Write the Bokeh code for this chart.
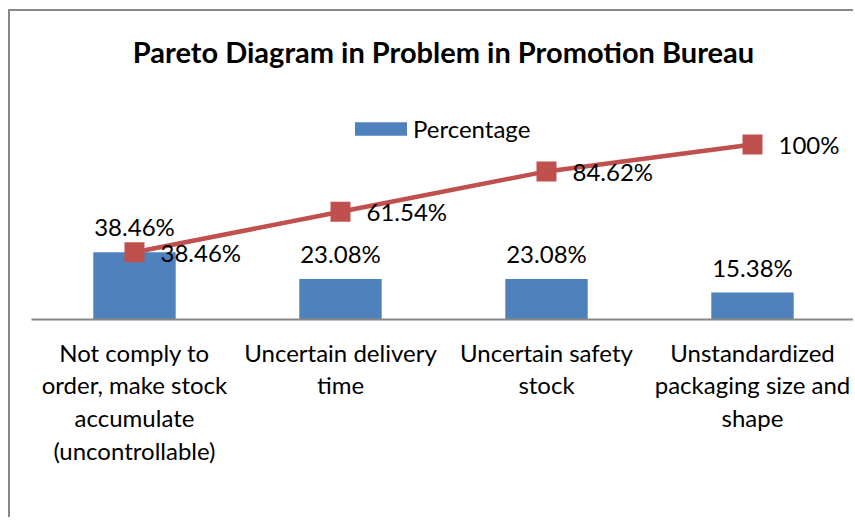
from bokeh.plotting import figure
from bokeh.models import ColumnDataSource, FixedTicker, LabelSet, Legend, LegendItem, Range1d
from bokeh.core.properties import value
from bokeh.embed import file_html
from bokeh.resources import INLINE

categories = [
    "Not comply to\norder, make stock\naccumulate\n(uncontrollable)",
    "Uncertain delivery\ntime",
    "Uncertain safety\nstock",
    "Unstandardized\npackaging size and\nshape",
]
percentage = [38.46, 23.08, 23.08, 15.38]
cumulative = [38.46, 61.54, 84.62, 100.0]
pct_labels = ["38.46%", "23.08%", "23.08%", "15.38%"]
cum_labels = ["38.46%", "61.54%", "84.62%", "100%"]

xs = list(range(len(categories)))
src = ColumnDataSource(dict(x=xs, pct=percentage, cum=cumulative,
                            pl=pct_labels, cl=cum_labels))

FONT = "Lato"
FS = "24px"
BLUE = "#4F81BD"
RED = "#C0504D"

p = figure(width=845, height=508, output_backend="svg", toolbar_location=None,
           x_range=Range1d(-0.5, 3.5), y_range=Range1d(0, 137.14),
           min_border_left=21, min_border_right=0, min_border_top=68,
           min_border_bottom=200, title="Pareto Diagram in Problem in Promotion Bureau")
p.styles = {"border-left": "2px solid #878787", "border-top": "2px solid #878787",
            "border-right": "none", "border-bottom": "none",
            "margin-left": "8px", "margin-top": "9px"}
p.outline_line_color = None
p.grid.visible = False
p.yaxis.visible = False
p.title.align = "center"
p.title.text_font = FONT
p.title.text_font_size = "29px"
p.title.text_font_style = "bold"
p.title.text_color = "black"
p.title.standoff = 21

ax = p.xaxis[0]
ax.ticker = FixedTicker(ticks=xs)
ax.major_label_overrides = {i: c for i, c in enumerate(categories)}
ax.axis_line_color = "#878787"
ax.axis_line_width = 2
ax.major_tick_line_color = None
ax.minor_tick_line_color = None
ax.major_label_text_font = FONT
ax.major_label_text_font_size = FS
ax.major_label_text_color = "black"
ax.major_label_text_line_height = 1.13
ax.major_label_standoff = 12

bars = p.vbar(x="x", top="pct", width=0.4, source=src, fill_color=BLUE, line_color=None)
p.line(x="x", y="cum", source=src, line_color=RED, line_width=4.5)
p.scatter(x="x", y="cum", source=src, marker="square", size=20, fill_color=RED, line_color=None)

p.add_layout(LabelSet(x="x", y="pct", text="pl", source=src, y_offset=16,
                      text_align="center", text_baseline="alphabetic",
                      text_font=value(FONT), text_font_size=value(FS), text_color="black"))
p.add_layout(LabelSet(x="x", y="cum", text="cl", source=src, x_offset=26,
                      text_align="left", text_baseline="middle",
                      text_font=value(FONT), text_font_size=value(FS), text_color="black"))

legend = Legend(items=[LegendItem(label="Percentage", renderers=[bars])],
                location=(317, 176), glyph_width=65, glyph_height=17,
                label_text_font=FONT, label_text_font_size=FS,
                label_text_color="black", border_line_color=None,
                background_fill_alpha=0, padding=0, margin=0, spacing=0,
                label_standoff=0)
p.add_layout(legend)

open("out.html", "w").write(file_html(p, INLINE))
